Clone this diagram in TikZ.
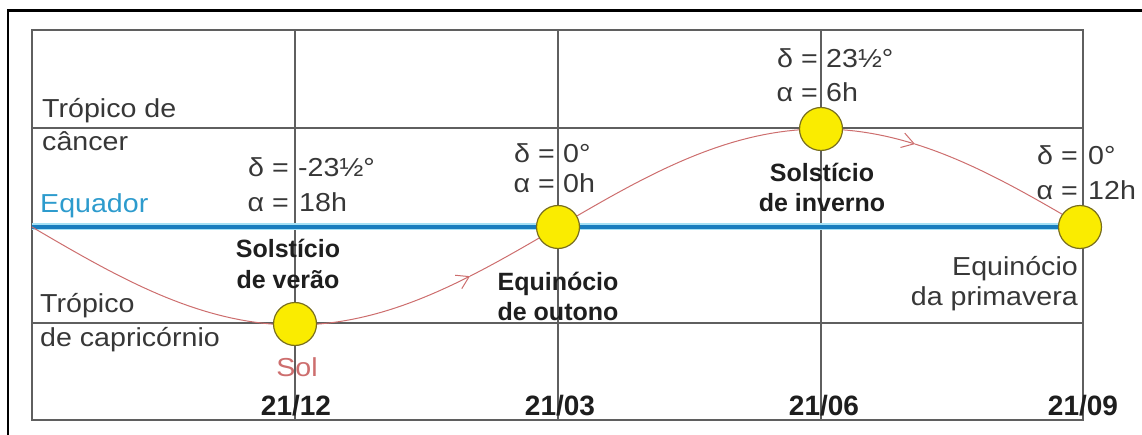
\documentclass[tikz,border=0pt]{standalone}
\usepackage{fontspec}
\setmainfont{Liberation Sans}
\newfontfamily\widefont[FakeStretch=1.1]{Liberation Sans}
\usetikzlibrary{arrows.meta}
\definecolor{gridgray}{RGB}{95,95,95}
\definecolor{eqblue}{RGB}{25,125,190}
\definecolor{eqhalo}{RGB}{165,225,245}
\definecolor{eqtext}{RGB}{45,155,205}
\definecolor{pathred}{RGB}{205,110,110}
\definecolor{sunfill}{RGB}{250,236,0}
\definecolor{sunedge}{RGB}{120,110,30}
\definecolor{ink}{RGB}{55,55,55}
\definecolor{boldink}{RGB}{30,30,30}

\begin{document}
\begin{tikzpicture}[x=1pt,y=1pt,>={Straight Barb[length=12pt,width=15pt]},
  gridline/.style={gridgray,line width=1.4pt},
  sunpath/.style={pathred,line width=1pt},
  sun/.style={circle,draw=sunedge,fill=sunfill,line width=1.2pt,minimum size=43pt,inner sep=0pt},
  lbl/.style={ink,inner sep=0pt,font=\widefont\fontsize{26}{30}\selectfont},
  bold/.style={boldink,inner sep=0pt,font=\fontsize{25}{30}\selectfont\bfseries},
  date/.style={boldink,inner sep=0pt,font=\fontsize{28}{30}\selectfont\bfseries}]
\useasboundingbox (0,0) rectangle (1142,434);
% moldura
\draw[line width=2.5pt] (8,-5) |- (1150,423.5);
% grade
\draw[gridline] (32,14) rectangle (1083,404);
\draw[gridline] (32,306) -- (1083,306);
\draw[gridline] (32,111) -- (1083,111);
\foreach \xx in {295,558,821}
  \draw[gridline] (\xx,14) -- (\xx,404);
% posicoes do Sol
\coordinate (c1) at (295,110);
\coordinate (c2) at (558,207);
\coordinate (c3) at (821,305);
\coordinate (c4) at (1080,207);
\coordinate (eq0) at (32,207);
% equador
\draw[eqhalo,line width=7pt] (eq0) -- (c4);
\draw[eqblue,line width=4pt] (eq0) -- (c4);
% trajetoria
\draw[sunpath,->] plot[domain=32:470,samples=60] (\x,{207-98*sin((\x-32)/263*90)});
\draw[sunpath,->] plot[domain=470:915,samples=60] (\x,{207-98*sin((\x-32)/263*90)});
\draw[sunpath] plot[domain=915:1080,samples=30] (\x,{207-98*sin((\x-32)/263*90)});
\node[sun] (sun1) at (c1) {};
\node[sun] (sun2) at (c2) {};
\node[sun] (sun3) at (c3) {};
\node[sun] (sun4) at (c4) {};
% textos da esquerda
\node[lbl,anchor=base west] (tc1) at (42,316) {Trópico de};
\node[lbl,anchor=base west] (tc2) at (42,283) {câncer};
\node[lbl,anchor=base west,text=eqtext] (eqname) at (40,221) {Equador};
\node[lbl,anchor=base west] (tp1) at (40,122) {Trópico};
\node[lbl,anchor=base west] (tp2) at (40,88) {de capricórnio};
\node[lbl,anchor=base,text=pathred] (sol) at (297,58) {Sol};
% declinacao e ascensao reta
\node[lbl,anchor=base east] (d1) at (289,257) {δ =};
\node[lbl,anchor=base east] (a1) at (289,222) {α =};
\node[lbl,anchor=base west] (dv1) at (298,257) {-23½°};
\node[lbl,anchor=base west] (av1) at (299,222) {18h};
\node[lbl,anchor=base east] (d2) at (555,271) {δ =};
\node[lbl,anchor=base east] (a2) at (555,241) {α =};
\node[lbl,anchor=base west] (dv2) at (563,271) {0°};
\node[lbl,anchor=base west] (av2) at (563,241) {0h};
\node[lbl,anchor=base east] (d3) at (818,366) {δ =};
\node[lbl,anchor=base east] (a3) at (818,332) {α =};
\node[lbl,anchor=base west] (dv3) at (826,366) {23½°};
\node[lbl,anchor=base west] (av3) at (826,332) {6h};
\node[lbl,anchor=base east] (d4) at (1078,269) {δ =};
\node[lbl,anchor=base east] (a4) at (1078,234) {α =};
\node[lbl,anchor=base west] (dv4) at (1088,269) {0°};
\node[lbl,anchor=base west] (av4) at (1088,234) {12h};
% nomes das posicoes
\node[bold,anchor=base] (sv1) at (288,176) {Solstício};
\node[bold,anchor=base] (sv2) at (288,146) {de verão};
\node[bold,anchor=base] (eo1) at (558,144) {Equinócio};
\node[bold,anchor=base] (eo2) at (558,114) {de outono};
\node[bold,anchor=base] (si1) at (822,252) {Solstício};
\node[bold,anchor=base] (si2) at (822,222) {de inverno};
\node[lbl,anchor=base east] (ep1) at (1078,158) {Equinócio};
\node[lbl,anchor=base east] (ep2) at (1078,129) {da primavera};
% datas
\node[date,anchor=base] (dt1) at (296,19) {21/12};
\node[date,anchor=base] (dt2) at (560,19) {21/03};
\node[date,anchor=base] (dt3) at (824,19) {21/06};
\node[date,anchor=base] (dt4) at (1083,19) {21/09};
\end{tikzpicture}
\end{document}
